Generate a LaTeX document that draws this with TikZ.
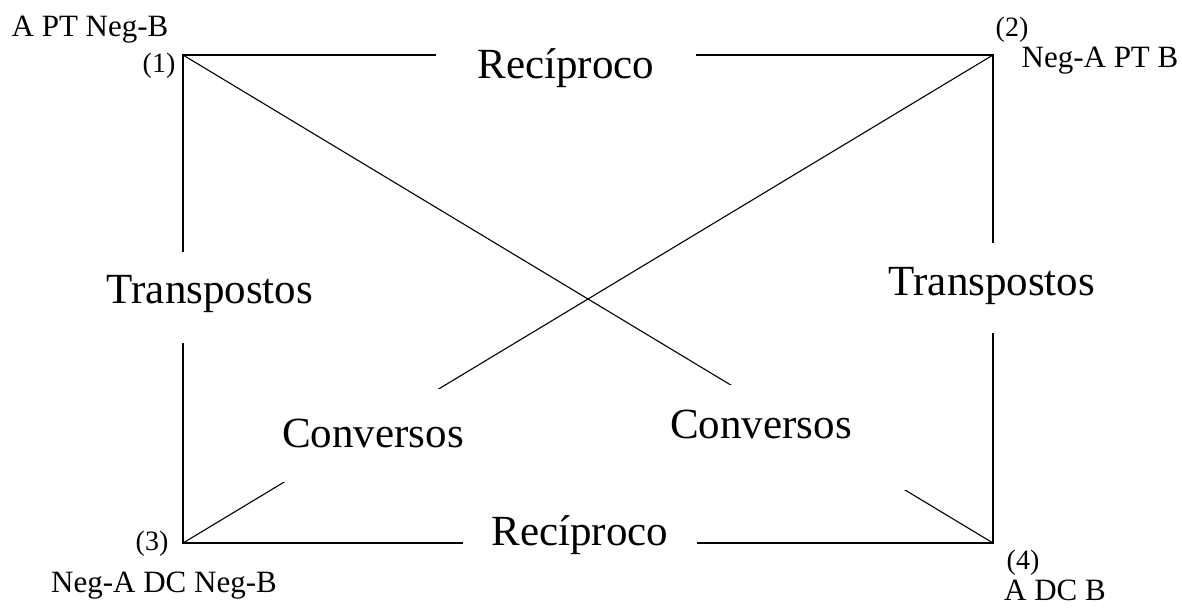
\documentclass[tikz,border=0pt]{standalone}
\usepackage{fontspec}
\setmainfont{Liberation Serif}
\begin{document}
\begin{tikzpicture}[x=1pt,y=-1pt,
            side/.style={line width=1.6pt},
            diag/.style={line width=1.1pt},
            big/.style={font=\fontsize{43}{50}\selectfont},
            small/.style={font=\fontsize{31}{36}\selectfont,anchor=base},
            num/.style={font=\fontsize{28}{32}\selectfont,anchor=base},
            gap/.style={fill=white,inner ysep=0pt,anchor=base}]
            \useasboundingbox (0,0) rectangle (1182,610);
            \coordinate (c1) at (183,55);
            \coordinate (c2) at (993,55);
            \coordinate (c3) at (183,543);
            \coordinate (c4) at (993,543);
            \draw[side] (c1) -- (c2) -- (c4) -- (c3) -- cycle;
            \draw[diag] (c1) -- (c4);
            \draw[diag] (c2) -- (c3);
            \node[gap,big,text height=35pt,text depth=12pt,inner xsep=42pt] (rectop) at (566,78) {Recíproco};
            \node[gap,big,text height=38pt,text depth=14pt,inner xsep=29pt] (recbot) at (580,545) {Recíproco};
            \node[gap,big,text height=51pt,text depth=40pt,inner xsep=5pt] (transl) at (210,303) {Transpostos};
            \node[gap,big,text height=52pt,text depth=38pt,inner xsep=5pt] (transr) at (992,295) {Transpostos};
            \node[gap,big,text height=58pt,text depth=35pt,inner xsep=5pt] (convl) at (373,447) {Conversos};
            \node[gap,big,text height=53pt,text depth=52pt,inner xsep=55pt] (convr) at (761,438) {Conversos};
            \node[small] (l1) at (90,37) {A PT Neg-B};
            \node[num] (n1) at (159,72) {(1)};
            \node[num] (n2) at (1012,37) {(2)};
            \node[small] (l2) at (1100,67) {Neg-A PT B};
            \node[num] (n3) at (152,550) {(3)};
            \node[small] (l3) at (164,592) {Neg-A DC Neg-B};
            \node[num] (n4) at (1023,569) {(4)};
            \node[small] (l4) at (1055,600) {A DC B};
        \end{tikzpicture}
\end{document}
